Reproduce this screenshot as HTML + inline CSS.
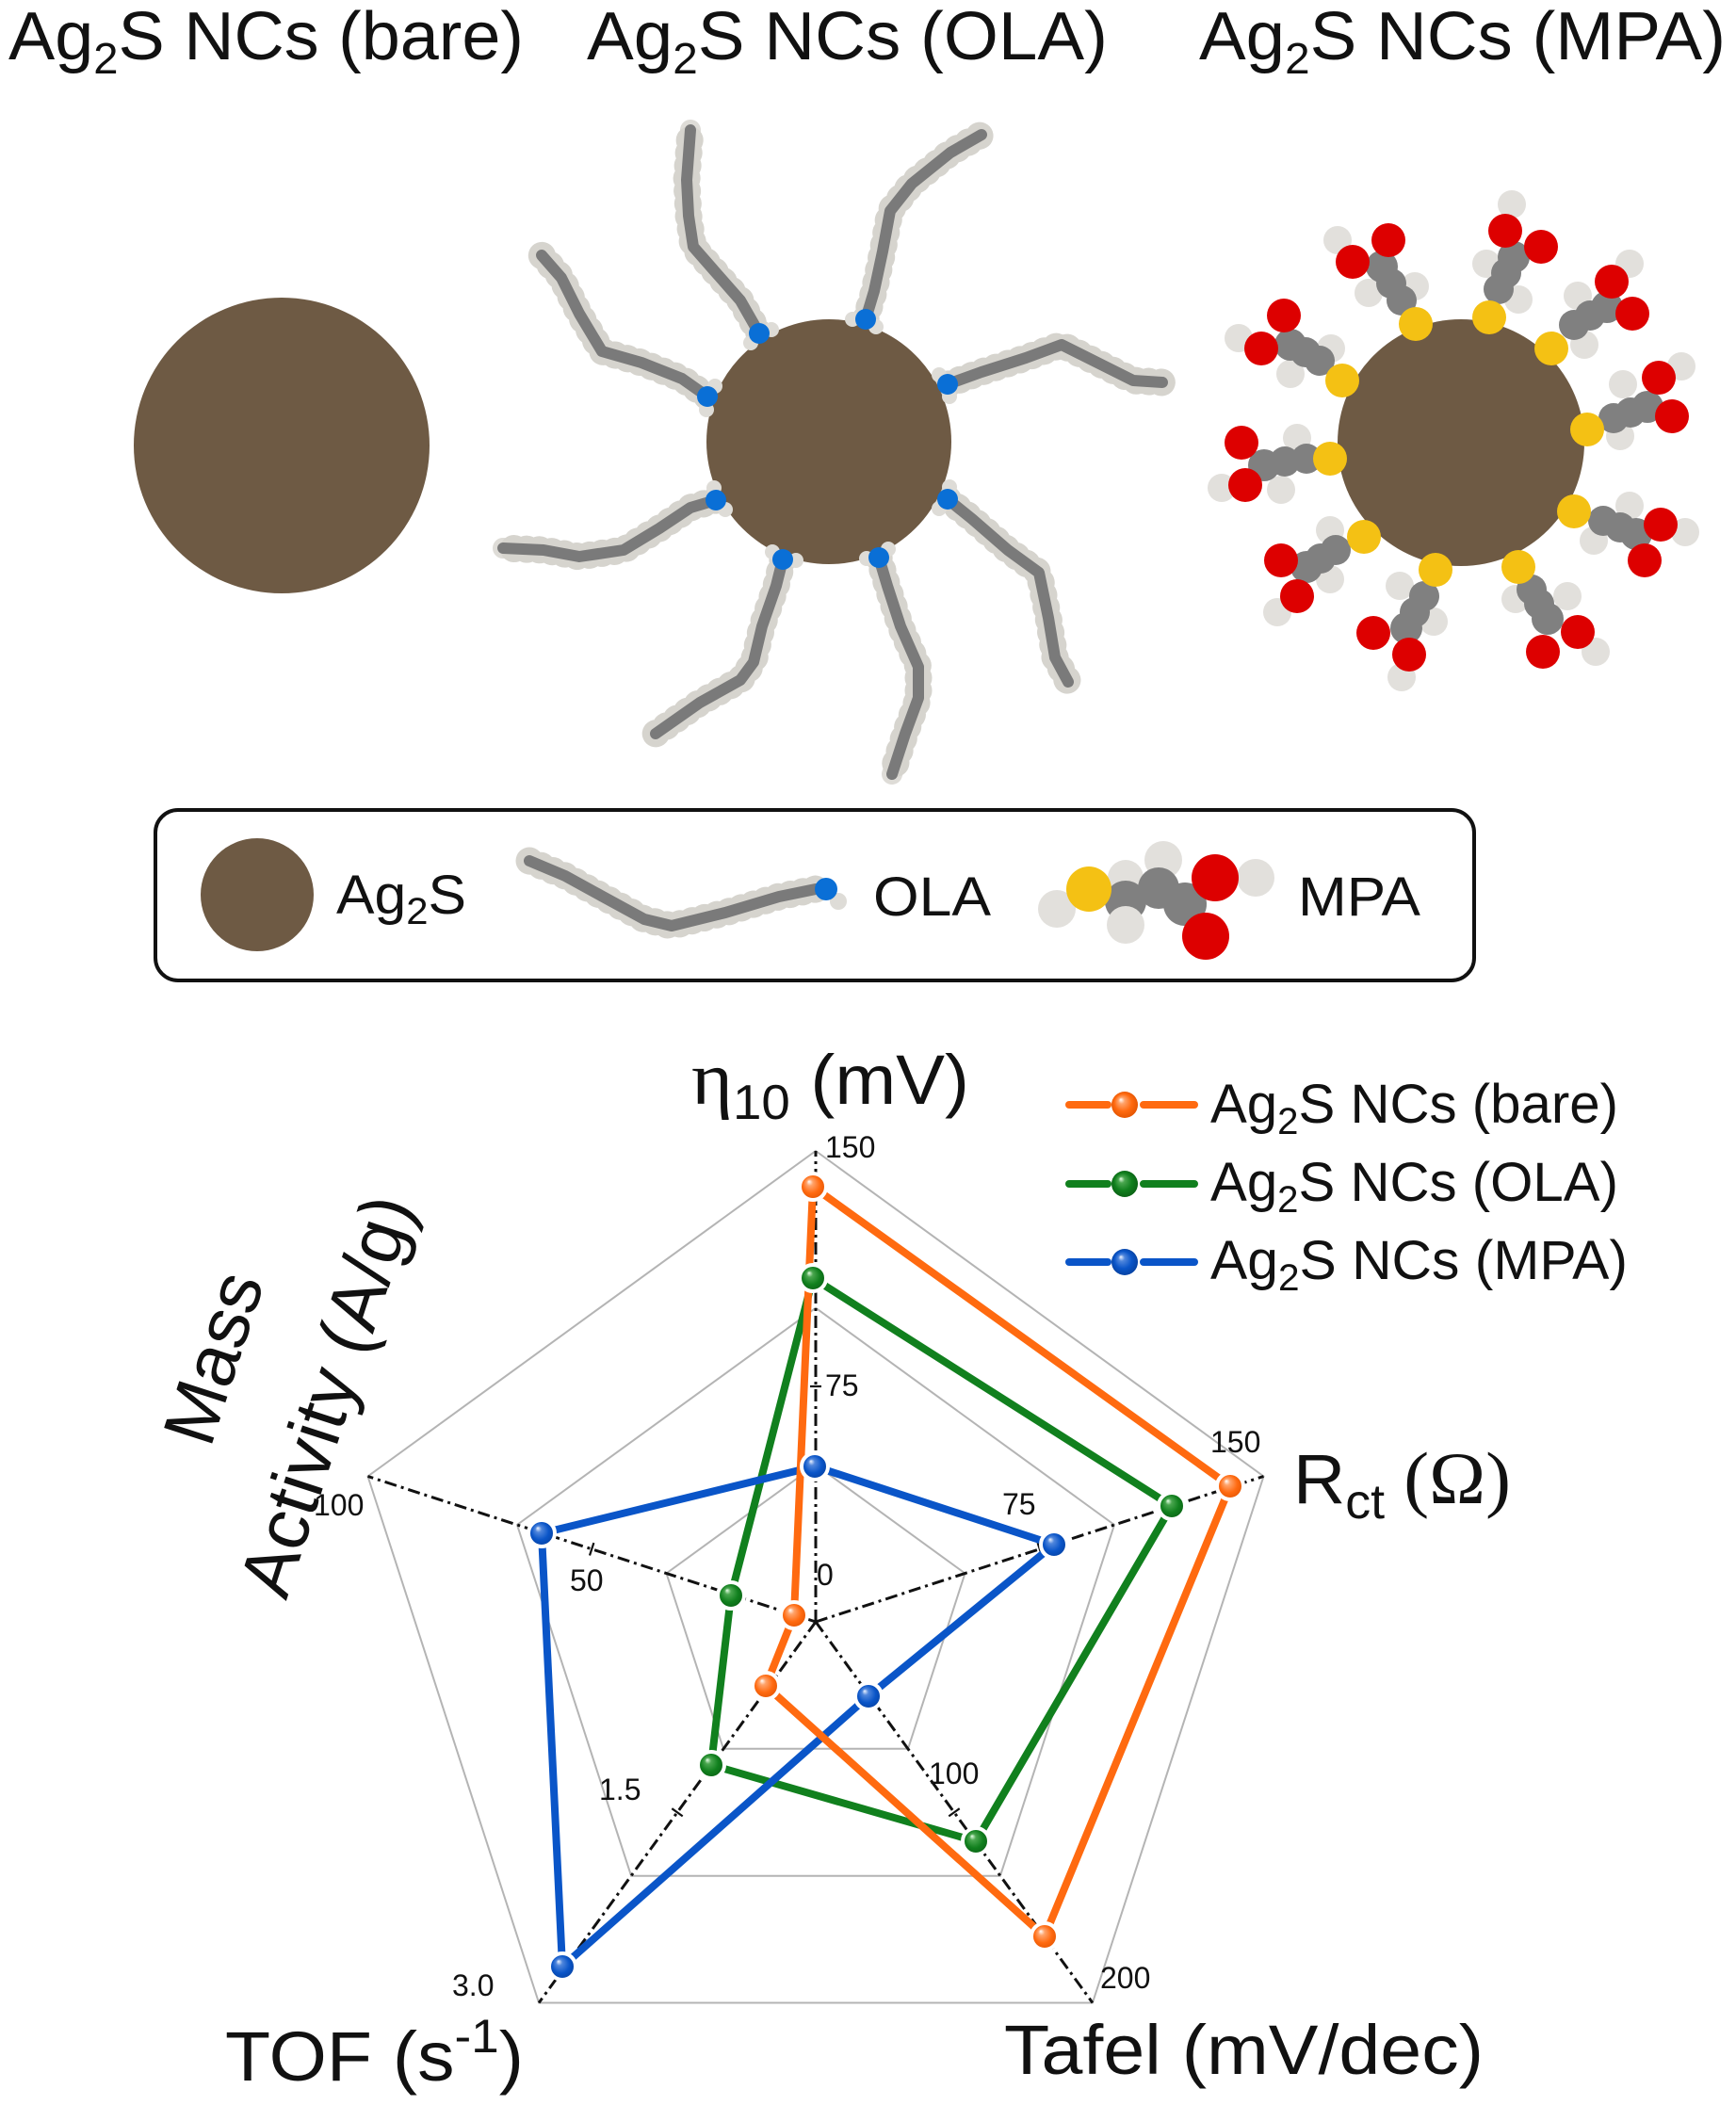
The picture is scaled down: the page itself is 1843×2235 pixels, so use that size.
<!DOCTYPE html>
<html>
<head>
<meta charset="utf-8">
<style>
  html,body{margin:0;padding:0;background:#fff;}
  svg{display:block;}
  text{font-family:"Liberation Sans", Arial, sans-serif; fill:#111;}
  .serif{font-family:"Liberation Serif", "Times New Roman", serif;}
</style>
</head>
<body>
<svg width="1843" height="2235" viewBox="0 0 1843 2235" xmlns="http://www.w3.org/2000/svg">
  <defs>
    <radialGradient id="gO" cx="0.5" cy="0.5" r="0.55" fx="0.35" fy="0.3">
      <stop offset="0" stop-color="#ffffff"/>
      <stop offset="0.22" stop-color="#ffa36a"/>
      <stop offset="0.6" stop-color="#ff6a10"/>
      <stop offset="1" stop-color="#e05200"/>
    </radialGradient>
    <radialGradient id="gG" cx="0.5" cy="0.5" r="0.55" fx="0.35" fy="0.3">
      <stop offset="0" stop-color="#e8ffe8"/>
      <stop offset="0.22" stop-color="#4aa64f"/>
      <stop offset="0.6" stop-color="#11801e"/>
      <stop offset="1" stop-color="#0a5e14"/>
    </radialGradient>
    <radialGradient id="gB" cx="0.5" cy="0.5" r="0.55" fx="0.35" fy="0.3">
      <stop offset="0" stop-color="#eef4ff"/>
      <stop offset="0.22" stop-color="#4f86dc"/>
      <stop offset="0.6" stop-color="#0a55c8"/>
      <stop offset="1" stop-color="#063f9c"/>
    </radialGradient>
  </defs>

  <rect width="1843" height="2235" fill="#ffffff"/>

  <!-- Titles -->
  <text x="9" y="63" font-size="72" textLength="547" lengthAdjust="spacingAndGlyphs">Ag<tspan font-size="46" dy="15">2</tspan><tspan dy="-15">S NCs (bare)</tspan></text>
  <text x="623" y="63" font-size="72" textLength="553" lengthAdjust="spacingAndGlyphs">Ag<tspan font-size="46" dy="15">2</tspan><tspan dy="-15">S NCs (OLA)</tspan></text>
  <text x="1273" y="63" font-size="72" textLength="559" lengthAdjust="spacingAndGlyphs">Ag<tspan font-size="46" dy="15">2</tspan><tspan dy="-15">S NCs (MPA)</tspan></text>

  <!-- Bare NC -->
  <circle cx="299" cy="473" r="157" fill="#6e5a44"/>

  <!-- OLA NC -->
  <g fill="none" stroke-linejoin="round" stroke-linecap="round">
    <g stroke="#dedcd7" stroke-width="22">
      <polyline points="806,354 786,319 757,286 736,262 731,229 729,191 733,138"/>
      <polyline points="919,339 928,309 937,267 945,224 968,195 1009,162 1042,143"/>
      <polyline points="751,421 724,402 681,385 639,373 615,333 596,295 575,271"/>
      <polyline points="1006,408 1042,395 1089,380 1127,366 1165,385 1203,404 1234,406"/>
      <polyline points="760,531 733,539 700,561 662,584 615,591 577,584 534,582"/>
      <polyline points="831,594 824,622 809,665 800,703 786,722 743,746 696,779"/>
      <polyline points="933,592 942,622 956,665 975,708 975,741 961,779 947,822"/>
      <polyline points="1006,530 1032,551 1070,584 1103,608 1113,656 1120,698 1134,724"/>
    </g>
    <g stroke="#d6d4ce" stroke-width="29" stroke-dasharray="0.5 13">
      <polyline points="806,354 786,319 757,286 736,262 731,229 729,191 733,138"/>
      <polyline points="919,339 928,309 937,267 945,224 968,195 1009,162 1042,143"/>
      <polyline points="751,421 724,402 681,385 639,373 615,333 596,295 575,271"/>
      <polyline points="1006,408 1042,395 1089,380 1127,366 1165,385 1203,404 1234,406"/>
      <polyline points="760,531 733,539 700,561 662,584 615,591 577,584 534,582"/>
      <polyline points="831,594 824,622 809,665 800,703 786,722 743,746 696,779"/>
      <polyline points="933,592 942,622 956,665 975,708 975,741 961,779 947,822"/>
      <polyline points="1006,530 1032,551 1070,584 1103,608 1113,656 1120,698 1134,724"/>
    </g>
    <g stroke="#7a7a7a" stroke-width="12">
      <polyline points="806,354 786,319 757,286 736,262 731,229 729,191 733,138"/>
      <polyline points="919,339 928,309 937,267 945,224 968,195 1009,162 1042,143"/>
      <polyline points="751,421 724,402 681,385 639,373 615,333 596,295 575,271"/>
      <polyline points="1006,408 1042,395 1089,380 1127,366 1165,385 1203,404 1234,406"/>
      <polyline points="760,531 733,539 700,561 662,584 615,591 577,584 534,582"/>
      <polyline points="831,594 824,622 809,665 800,703 786,722 743,746 696,779"/>
      <polyline points="933,592 942,622 956,665 975,708 975,741 961,779 947,822"/>
      <polyline points="1006,530 1032,551 1070,584 1103,608 1113,656 1120,698 1134,724"/>
    </g>
  </g>
  <circle cx="880" cy="469" r="130" fill="#6e5a44"/>
  <g fill="#dedcd7">
    <circle cx="819" cy="350" r="8"/><circle cx="797" cy="364" r="8"/>
    <circle cx="930" cy="347" r="8"/><circle cx="905" cy="339" r="8"/>
    <circle cx="759" cy="410" r="8"/><circle cx="750" cy="435" r="8"/>
    <circle cx="1008" cy="421" r="8"/><circle cx="997" cy="398" r="8"/>
    <circle cx="758" cy="518" r="8"/><circle cx="770" cy="541" r="8"/>
    <circle cx="820" cy="586" r="8"/><circle cx="845" cy="595" r="8"/>
    <circle cx="920" cy="593" r="8"/><circle cx="943" cy="583" r="8"/>
    <circle cx="997" cy="540" r="8"/><circle cx="1008" cy="517" r="8"/>
  </g>
  <g fill="#0a6fd6">
    <circle cx="806" cy="354" r="11"/>
    <circle cx="919" cy="339" r="11"/>
    <circle cx="751" cy="421" r="11"/>
    <circle cx="1006" cy="408" r="11"/>
    <circle cx="760" cy="531" r="11"/>
    <circle cx="831" cy="594" r="11"/>
    <circle cx="933" cy="592" r="11"/>
    <circle cx="1006" cy="530" r="11"/>
  </g>

  <!-- MPA NC -->
  <circle cx="1551" cy="470" r="131" fill="#6e5a44"/>
  <!-- H atoms -->
  <g fill="#e2e0dc">
    <circle cx="1420" cy="255" r="15"/><circle cx="1453" cy="311" r="15"/><circle cx="1502" cy="304" r="15"/>
    <circle cx="1605" cy="217" r="15"/><circle cx="1578" cy="280" r="15"/><circle cx="1612" cy="318" r="15"/>
    <circle cx="1730" cy="280" r="15"/><circle cx="1675" cy="314" r="15"/><circle cx="1682" cy="366" r="15"/>
    <circle cx="1785" cy="389" r="15"/><circle cx="1723" cy="408" r="15"/><circle cx="1720" cy="463" r="15"/>
    <circle cx="1789" cy="565" r="15"/><circle cx="1730" cy="537" r="15"/><circle cx="1692" cy="574" r="15"/>
    <circle cx="1694" cy="692" r="15"/><circle cx="1609" cy="636" r="15"/><circle cx="1664" cy="633" r="15"/>
    <circle cx="1488" cy="719" r="15"/><circle cx="1486" cy="622" r="15"/><circle cx="1522" cy="660" r="15"/>
    <circle cx="1356" cy="650" r="15"/><circle cx="1412" cy="563" r="15"/><circle cx="1412" cy="615" r="15"/>
    <circle cx="1297" cy="518" r="15"/><circle cx="1377" cy="465" r="15"/><circle cx="1360" cy="520" r="15"/>
    <circle cx="1315" cy="359" r="15"/><circle cx="1413" cy="370" r="15"/><circle cx="1370" cy="397" r="15"/>
  </g>
  <!-- C atoms -->
  <g fill="#808080">
    <circle cx="1488" cy="319" r="16"/><circle cx="1477" cy="301" r="16"/><circle cx="1467" cy="283" r="17"/>
    <circle cx="1591" cy="307" r="16"/><circle cx="1599" cy="290" r="16"/><circle cx="1607" cy="273" r="17"/>
    <circle cx="1671" cy="345" r="16"/><circle cx="1688" cy="335" r="16"/><circle cx="1706" cy="326" r="17"/>
    <circle cx="1713" cy="444" r="16"/><circle cx="1731" cy="438" r="16"/><circle cx="1749" cy="432" r="17"/>
    <circle cx="1702" cy="553" r="16"/><circle cx="1720" cy="560" r="16"/><circle cx="1737" cy="567" r="17"/>
    <circle cx="1626" cy="626" r="16"/><circle cx="1634" cy="641" r="16"/><circle cx="1643" cy="657" r="17"/>
    <circle cx="1512" cy="633" r="16"/><circle cx="1502" cy="650" r="16"/><circle cx="1493" cy="667" r="17"/>
    <circle cx="1418" cy="584" r="16"/><circle cx="1402" cy="593" r="16"/><circle cx="1387" cy="602" r="17"/>
    <circle cx="1387" cy="487" r="16"/><circle cx="1364" cy="490" r="16"/><circle cx="1342" cy="494" r="17"/>
    <circle cx="1401" cy="383" r="16"/><circle cx="1386" cy="374" r="16"/><circle cx="1370" cy="366" r="17"/>
  </g>
  <!-- O atoms -->
  <g fill="#dd0000">
    <circle cx="1474" cy="255" r="18"/><circle cx="1436" cy="278" r="18"/>
    <circle cx="1598" cy="245" r="18"/><circle cx="1636" cy="262" r="18"/>
    <circle cx="1711" cy="299" r="18"/><circle cx="1733" cy="333" r="18"/>
    <circle cx="1761" cy="401" r="18"/><circle cx="1775" cy="442" r="18"/>
    <circle cx="1763" cy="557" r="18"/><circle cx="1746" cy="595" r="18"/>
    <circle cx="1638" cy="692" r="18"/><circle cx="1675" cy="671" r="18"/>
    <circle cx="1458" cy="672" r="18"/><circle cx="1496" cy="695" r="18"/>
    <circle cx="1360" cy="595" r="18"/><circle cx="1377" cy="633" r="18"/>
    <circle cx="1318" cy="470" r="18"/><circle cx="1322" cy="515" r="18"/>
    <circle cx="1363" cy="335" r="18"/><circle cx="1339" cy="370" r="18"/>
  </g>
  <!-- S atoms -->
  <g fill="#f4c114">
    <circle cx="1503" cy="344" r="18"/>
    <circle cx="1581" cy="337" r="18"/>
    <circle cx="1647" cy="370" r="18"/>
    <circle cx="1685" cy="456" r="18"/>
    <circle cx="1671" cy="543" r="18"/>
    <circle cx="1612" cy="602" r="18"/>
    <circle cx="1524" cy="605" r="18"/>
    <circle cx="1448" cy="570" r="18"/>
    <circle cx="1412" cy="487" r="18"/>
    <circle cx="1425" cy="404" r="18"/>
  </g>

  <!-- Legend box -->
  <rect x="165" y="860" width="1400" height="181" rx="24" ry="24" fill="none" stroke="#111" stroke-width="4"/>
  <circle cx="273" cy="950" r="60" fill="#6e5a44"/>
  <text x="357" y="970" font-size="58" textLength="138" lengthAdjust="spacingAndGlyphs">Ag<tspan font-size="40" dy="11">2</tspan><tspan dy="-11">S</tspan></text>
  <g fill="none" stroke-linejoin="round" stroke-linecap="round">
    <polyline points="562,914 600,930 640,952 684,976 713,983 770,969 827,952 866,944" stroke="#dedcd7" stroke-width="22"/>
    <polyline points="562,914 600,930 640,952 684,976 713,983 770,969 827,952 866,944" stroke="#d6d4ce" stroke-width="29" stroke-dasharray="0.5 13"/>
    <polyline points="562,914 600,930 640,952 684,976 713,983 770,969 827,952 866,944" stroke="#7a7a7a" stroke-width="12"/>
  </g>
  <circle cx="890" cy="957" r="9" fill="#dedcd7"/>
  <circle cx="877" cy="944" r="12" fill="#0a6fd6"/>
  <text x="927" y="972" font-size="58" textLength="125" lengthAdjust="spacingAndGlyphs">OLA</text>
  <!-- MPA molecule -->
  <g>
    <circle cx="1122" cy="965" r="20" fill="#e2e0dc"/>
    <circle cx="1195" cy="932" r="19" fill="#e2e0dc"/>
    <circle cx="1235" cy="913" r="20" fill="#e2e0dc"/>
    <circle cx="1333" cy="932" r="20" fill="#e2e0dc"/>
    <circle cx="1195" cy="957" r="22" fill="#808080"/>
    <circle cx="1230" cy="943" r="22" fill="#808080"/>
    <circle cx="1258" cy="960" r="23" fill="#808080"/>
    <circle cx="1195" cy="982" r="20" fill="#e2e0dc"/>
    <circle cx="1156" cy="944" r="24" fill="#f4c114"/>
    <circle cx="1290" cy="932" r="25" fill="#dd0000"/>
    <circle cx="1280" cy="994" r="25" fill="#dd0000"/>
  </g>
  <text x="1378" y="972" font-size="58" textLength="130" lengthAdjust="spacingAndGlyphs">MPA</text>

  <!-- Radar grid -->
  <g fill="none" stroke="#b4b4b4" stroke-width="2">
    <polygon points="866,1222 1341.5,1567.5 1159.9,2126.5 572.1,2126.5 390.5,1567.5"/>
    <polygon points="866,1388.7 1183,1619 1061.9,1991.7 670.1,1991.7 549,1619"/>
    <polygon points="866,1555.3 1024.5,1670.5 964,1856.8 768,1856.8 707.5,1670.5"/>
  </g>
  <g stroke="#111" stroke-width="3" stroke-dasharray="13 5 3 5" fill="none">
    <line x1="866" y1="1722" x2="866" y2="1222"/>
    <line x1="866" y1="1722" x2="1341.5" y2="1567.5"/>
    <line x1="866" y1="1722" x2="1159.9" y2="2126.5"/>
    <line x1="866" y1="1722" x2="572.1" y2="2126.5"/>
    <line x1="866" y1="1722" x2="390.5" y2="1567.5"/>
  </g>
  <g stroke="#111" stroke-width="2.2">
    <line x1="860" y1="1472" x2="872" y2="1472"/>
    <line x1="1101.6" y1="1638.1" x2="1106" y2="1651.5"/>
    <line x1="1007.3" y1="1928.4" x2="1018.7" y2="1920.2"/>
    <line x1="713.3" y1="1920.2" x2="724.7" y2="1928.4"/>
    <line x1="626" y1="1651.5" x2="630.4" y2="1638.1"/>
  </g>

  <!-- Tick labels -->
  <g font-size="32">
    <text x="876" y="1229">150</text>
    <text x="876" y="1482">75</text>
    <text x="867" y="1683">0</text>
    <text x="1285" y="1542">150</text>
    <text x="1064" y="1608">75</text>
    <text x="1168" y="2111">200</text>
    <text x="986" y="1894">100</text>
    <text x="480" y="2119">3.0</text>
    <text x="636" y="1911">1.5</text>
    <text x="333" y="1609">100</text>
    <text x="605" y="1689">50</text>
  </g>

  <!-- Axis labels -->
  <text x="734" y="1172" font-size="74" textLength="295" lengthAdjust="spacingAndGlyphs"><tspan class="serif" font-size="80">η</tspan><tspan font-size="52" dy="16">10</tspan><tspan dy="-16"> (mV)</tspan></text>
  <text x="1373" y="1596" font-size="74" textLength="231" lengthAdjust="spacingAndGlyphs">R<tspan font-size="52" dy="16">ct</tspan><tspan dy="-16" class="serif" font-size="78"> (Ω)</tspan></text>
  <text x="1066" y="2202" font-size="74" textLength="509" lengthAdjust="spacingAndGlyphs">Tafel (mV/dec)</text>
  <text x="239" y="2209" font-size="74" textLength="317" lengthAdjust="spacingAndGlyphs">TOF (s<tspan font-size="50" dy="-30">-1</tspan><tspan dy="30">)</tspan></text>
  <text transform="translate(252,1450) rotate(-72)" text-anchor="middle" font-size="78">Mass</text>
  <text transform="translate(372,1490) rotate(-72)" text-anchor="middle" font-size="78" textLength="442" lengthAdjust="spacingAndGlyphs">Activity (A/g)</text>

  <!-- Data series -->
  <g fill="none" stroke-width="8" stroke-linejoin="round">
    <polygon points="863,1357 1244,1599 1036,1955 755,1874 776,1694" stroke="#11801e"/>
    <polygon points="865,1557 1119,1640 922,1801 597,2088 575,1628" stroke="#0a55c8"/>
    <polygon points="863,1260 1306,1578 1109,2056 813,1790 843,1715" stroke="#ff6a10"/>
  </g>
  <g stroke="#ffffff" stroke-width="4">
    <g fill="url(#gG)">
      <circle cx="863" cy="1357" r="14"/><circle cx="1244" cy="1599" r="14"/><circle cx="1036" cy="1955" r="14"/><circle cx="755" cy="1874" r="14"/><circle cx="776" cy="1694" r="14"/>
    </g>
    <g fill="url(#gB)">
      <circle cx="865" cy="1557" r="14"/><circle cx="1119" cy="1640" r="14"/><circle cx="922" cy="1801" r="14"/><circle cx="597" cy="2088" r="14"/><circle cx="575" cy="1628" r="14"/>
    </g>
    <g fill="url(#gO)">
      <circle cx="863" cy="1260" r="14"/><circle cx="1306" cy="1578" r="14"/><circle cx="1109" cy="2056" r="14"/><circle cx="813" cy="1790" r="14"/><circle cx="843" cy="1715" r="14"/>
    </g>
  </g>

  <!-- Chart legend -->
  <g stroke-width="8" stroke-linecap="round">
    <line x1="1135" y1="1173" x2="1176" y2="1173" stroke="#ff6a10"/>
    <line x1="1214" y1="1173" x2="1268" y2="1173" stroke="#ff6a10"/>
    <line x1="1135" y1="1257" x2="1176" y2="1257" stroke="#11801e"/>
    <line x1="1214" y1="1257" x2="1268" y2="1257" stroke="#11801e"/>
    <line x1="1135" y1="1340" x2="1176" y2="1340" stroke="#0a55c8"/>
    <line x1="1214" y1="1340" x2="1268" y2="1340" stroke="#0a55c8"/>
  </g>
  <circle cx="1194" cy="1173" r="14" fill="url(#gO)"/>
  <circle cx="1194" cy="1257" r="14" fill="url(#gG)"/>
  <circle cx="1194" cy="1340" r="14" fill="url(#gB)"/>
  <text x="1285" y="1192" font-size="58" textLength="433" lengthAdjust="spacingAndGlyphs">Ag<tspan font-size="40" dy="12">2</tspan><tspan dy="-12">S NCs (bare)</tspan></text>
  <text x="1285" y="1275" font-size="58" textLength="433" lengthAdjust="spacingAndGlyphs">Ag<tspan font-size="40" dy="12">2</tspan><tspan dy="-12">S NCs (OLA)</tspan></text>
  <text x="1285" y="1358" font-size="58" textLength="443" lengthAdjust="spacingAndGlyphs">Ag<tspan font-size="40" dy="12">2</tspan><tspan dy="-12">S NCs (MPA)</tspan></text>
</svg>
</body>
</html>
